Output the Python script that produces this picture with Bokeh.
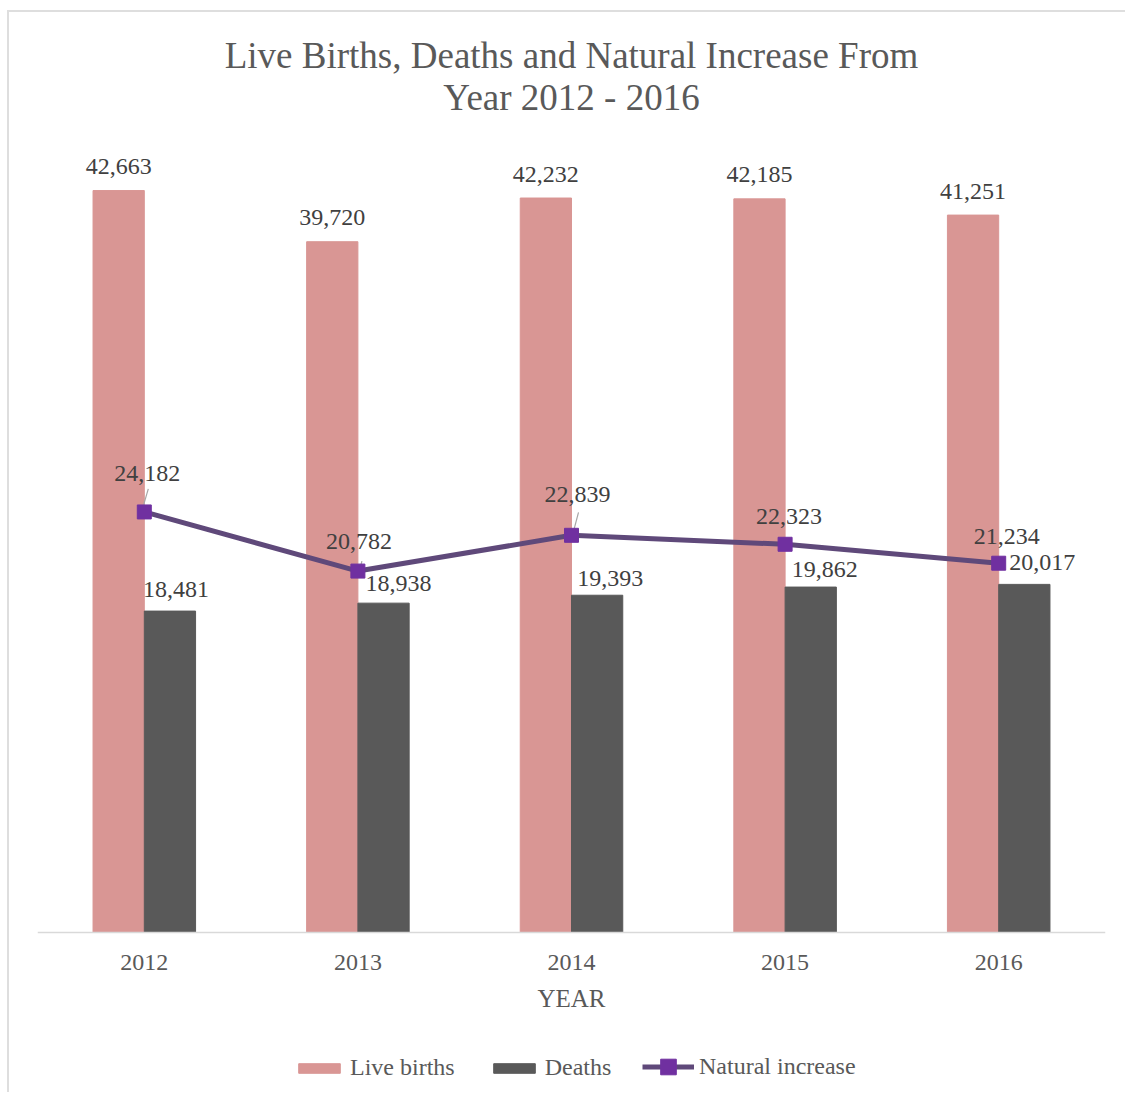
from bokeh.plotting import figure
from bokeh.models import ColumnDataSource, Label, Legend, LegendItem, FactorRange, Range1d
from bokeh.transform import dodge
from bokeh.core.properties import value
from bokeh.embed import file_html
from bokeh.resources import INLINE

# ---------------- data ----------------
years = ["2012", "2013", "2014", "2015", "2016"]
live_births = [42663, 39720, 42232, 42185, 41251]
deaths = [18481, 18938, 19393, 19862, 20017]
natural_increase = [24182, 20782, 22839, 22323, 21234]

title_lines = ["Live Births, Deaths and Natural Increase From", "Year 2012 - 2016"]

# ---------------- label nudges (pixels, manual placement as in the original) ----------------
deaths_dx = [6, 15, 13, 14, 18]
deaths_dy = [22, 20, 17, 18, 22]
nat_dx = [3, 1, 6, 4, 8]
nat_dy = [38, 30, 41, 28, 27]
# leader lines for the natural-increase labels: (index, dx0, dy0, dx1, dy1) in px from marker
leaders = [(0, 4, 23, -1, 6), (1, 4, 10, 2, 2), (2, 7, 23, 2, 4)]

# ---------------- geometry ----------------
W, H = 1118, 1082
FRAME_W = 1068
PX_ABOVE = 920      # frame pixels above the zero line
PX_BELOW = 162      # frame pixels below the zero line (axis labels + legend)
Y_END = 52900
UNITS_PER_PX = Y_END / PX_ABOVE
Y_START = -PX_BELOW * UNITS_PER_PX
CAT_PX = FRAME_W / len(years)

FONT = "Liberation Serif"
TXT = "#404040"
GREY = "#595959"
PINK = "#D99694"
DARK = "#595959"
LINE = "#5F497A"
MARK = "#7030A0"

src = ColumnDataSource(dict(
    year=years,
    births=live_births,
    deaths=deaths,
    natural=natural_increase,
    births_txt=[f"{v:,}" for v in live_births],
    deaths_txt=[f"{v:,}" for v in deaths],
    natural_txt=[f"{v:,}" for v in natural_increase],
    deaths_dx=deaths_dx,
    deaths_dy=[-d for d in deaths_dy],
    nat_dx=nat_dx,
    nat_dy=[-d for d in nat_dy],
))

p = figure(
    width=W, height=H,
    x_range=FactorRange(*years, range_padding=0),
    y_range=Range1d(Y_START, Y_END),
    output_backend="svg", toolbar_location=None,
    min_border_left=28, min_border_right=22, min_border_top=0, min_border_bottom=0,
)
p.styles = {"border-left": "2px solid #DEDEDE", "border-top": "2px solid #DEDEDE",
            "margin-left": "7px", "margin-top": "10px"}
p.outline_line_color = None
p.xgrid.grid_line_color = None
p.ygrid.grid_line_color = None
p.yaxis.visible = False

bw = 0.24
r_b = p.vbar(x=dodge("year", -bw / 2, range=p.x_range), top="births", bottom=0, width=bw,
             source=src, fill_color=PINK, line_color=PINK)
r_d = p.vbar(x=dodge("year", bw / 2, range=p.x_range), top="deaths", bottom=0, width=bw,
             source=src, fill_color=DARK, line_color=DARK)

# leader lines
lx0, ly0, lx1, ly1 = [], [], [], []
for i, dx0, dy0, dx1, dy1 in leaders:
    cx = i + 0.5
    lx0.append(cx + dx0 / CAT_PX)
    ly0.append(natural_increase[i] + dy0 * UNITS_PER_PX)
    lx1.append(cx + dx1 / CAT_PX)
    ly1.append(natural_increase[i] + dy1 * UNITS_PER_PX)
p.segment(x0=lx0, y0=ly0, x1=lx1, y1=ly1, line_color="#A6A6A6", line_width=1.2)

r_l = p.line(x="year", y="natural", source=src, line_color=LINE, line_width=5)
r_m = p.scatter(x="year", y="natural", source=src, marker="square", size=14,
                fill_color=MARK, line_color=MARK)

common = dict(text_font=value(FONT), text_font_size=value("24px"), text_color=TXT,
              text_align="center", text_baseline="middle")
p.text(x=dodge("year", -bw / 2, range=p.x_range), y="births", text="births_txt", source=src,
       y_offset=-24, **common)
p.text(x=dodge("year", bw / 2, range=p.x_range), y="deaths", text="deaths_txt", source=src,
       x_offset="deaths_dx", y_offset="deaths_dy", **common)
p.text(x="year", y="natural", text="natural_txt", source=src,
       x_offset="nat_dx", y_offset="nat_dy", **common)

# title
for k, line in enumerate(title_lines):
    py = 55 + 42 * k - 12  # page y of line centre -> offset from frame top
    p.add_layout(Label(x=len(years) / 2, y=Y_END - py * UNITS_PER_PX, text=line,
                       text_font=FONT, text_font_size="37px", text_color=GREY,
                       text_align="center", text_baseline="middle"))

ax = p.xaxis[0]
ax.fixed_location = 0
ax.axis_line_color = "#D9D9D9"
ax.axis_line_width = 1.5
ax.major_tick_line_color = None
ax.minor_tick_line_color = None
ax.major_tick_out = 0
ax.major_tick_in = 0
ax.major_label_standoff = 22
ax.major_label_text_font = FONT
ax.major_label_text_font_size = "24px"
ax.major_label_text_color = GREY
ax.axis_label = "YEAR"
ax.axis_label_standoff = 12
ax.axis_label_text_font = FONT
ax.axis_label_text_font_size = "25px"
ax.axis_label_text_font_style = "normal"
ax.axis_label_text_color = GREY

leg_style = dict(
    orientation="horizontal",
    glyph_width=52,
    label_standoff=5, spacing=33, padding=0, margin=0,
    label_text_font=FONT, label_text_font_size="24px", label_text_color=GREY,
    border_line_color=None, background_fill_alpha=0,
)
legend_bars = Legend(
    items=[LegendItem(label="Live births", renderers=[r_b]),
           LegendItem(label="Deaths", renderers=[r_d])],
    location=(256, 13), glyph_height=12, **leg_style,
)
legend_line = Legend(
    items=[LegendItem(label="Natural increase", renderers=[r_l, r_m])],
    location=(605, 8), glyph_height=39, **leg_style,
)
p.add_layout(legend_bars, "center")
p.add_layout(legend_line, "center")

open("out.html", "w").write(file_html(p, INLINE))
